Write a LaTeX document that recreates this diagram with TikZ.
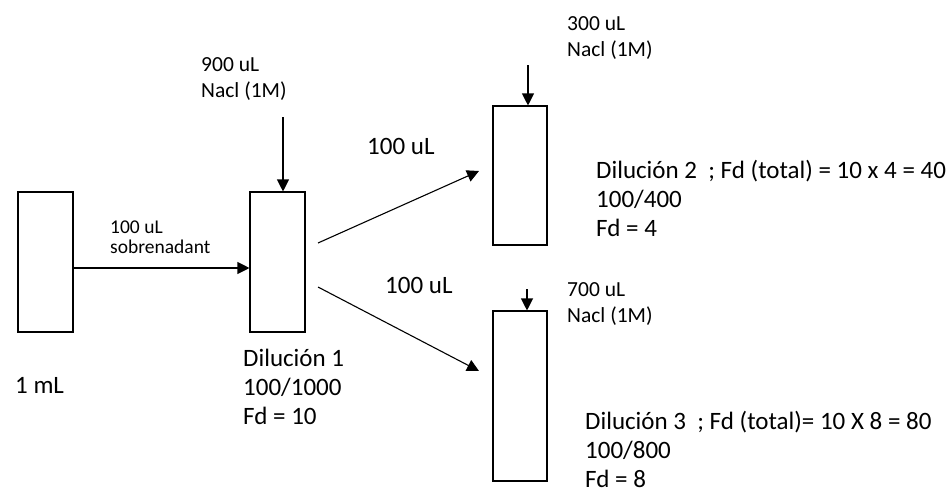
\documentclass[tikz,border=0pt]{standalone}
\usepackage{fontspec}
\setmainfont{Carlito}
\usetikzlibrary{arrows.meta}

\begin{document}
\begin{tikzpicture}[
    x=1pt, y=-1pt,
    % Styles
    tube/.style={rectangle, draw=black, line width=1.1pt, inner sep=0pt, minimum width=55pt},
    big label/.style={anchor=base west, inner sep=0pt, align=left, font=\fontsize{25}{29}\selectfont},
    salt label/.style={anchor=base west, inner sep=0pt, align=left, font=\fontsize{21.5}{26}\selectfont},
    small label/.style={anchor=base west, inner sep=0pt, align=left, font=\fontsize{19.5}{19.5}\selectfont},
    arrow/.style={-{Triangle[length=12pt, width=12pt]}, line width=1.1pt}
]
\useasboundingbox (0,0) rectangle (952,493);

% Tubes
\node[tube, minimum height=140pt] (stock) at (45.5,262) {};
\node[tube, minimum height=140pt] (dil1) at (277.5,262) {};
\node[tube, minimum width=54pt, minimum height=139pt] (dil2) at (520,175.5) {};
\node[tube, minimum width=54pt, minimum height=170pt] (dil3) at (520,396) {};

% Free ends of the connectors
\coordinate (salt1) at (283,117);
\coordinate (salt2) at (528,65);
\coordinate (salt3) at (527,289);
\coordinate (up start) at (318,243);
\coordinate (up end) at (479,171);
\coordinate (down start) at (318,287);
\coordinate (down end) at (479,371);

% Labels (anchored at the baseline of the last line)
\node[big label] (stockvol) at (15,393) {1 mL};
\node[small label] (sobren) at (110,253) {100 uL\\sobrenadant};
\node[salt label] (nacl1) at (201,97) {900 uL\\Nacl (1M)};
\node[salt label] (nacl2) at (567,56) {300 uL\\Nacl (1M)};
\node[salt label] (nacl3) at (567,322) {700 uL\\Nacl (1M)};
\node[big label] (vol up) at (367,154) {100 uL};
\node[big label] (vol down) at (385,293) {100 uL};
\node[big label] (info1) at (243,424) {Dilución 1\\100/1000\\Fd = 10};
\node[big label] (info2) at (596,236) {Dilución 2~ ; Fd (total) = 10 x 4 = 40\\100/400\\Fd = 4};
\node[big label] (info3) at (585,487) {Dilución 3~ ; Fd (total)= 10 X 8 = 80\\100/800\\Fd = 8};

% Connections
\draw[arrow] ([yshift=-6pt]stock.east) -- ([yshift=-6pt]dil1.west);
\draw[arrow] (salt1) -- ([xshift=5.5pt]dil1.north);
\draw[arrow] (salt2) -- ([xshift=8pt]dil2.north);
\draw[arrow] (salt3) -- ([xshift=7pt]dil3.north);
\draw[arrow] (up start) -- (up end);
\draw[arrow] (down start) -- (down end);

\end{tikzpicture}
\end{document}
